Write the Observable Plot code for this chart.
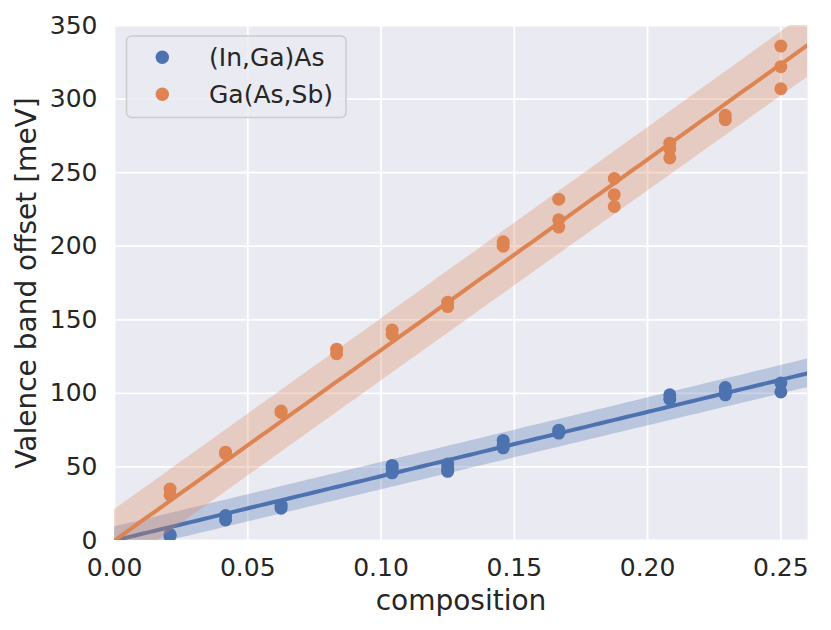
<!DOCTYPE html>
<html>
<head>
<meta charset="utf-8">
<script src="https://cdn.jsdelivr.net/npm/d3@7"></script>
<script src="https://cdn.jsdelivr.net/npm/@observablehq/plot@0.6"></script>
<style>
  body { margin: 0; background: #ffffff; font-family: "DejaVu Sans", sans-serif; }
  #wrap { position: relative; width: 831px; height: 630px; }
  #legend { position: absolute; left: 0; top: 0; pointer-events: none; }
</style>
</head>
<body>
<div id="wrap"></div>
<script>
// ---- data ----
const seriesNames = ["(In,Ga)As", "Ga(As,Sb)"];
const seriesColors = ["#4C72B0", "#DD8452"];

const inGaAsComposition = [1/48, 1/48, 2/48, 2/48, 3/48, 3/48, 5/48, 5/48, 5/48, 6/48, 6/48, 6/48,
  7/48, 7/48, 7/48, 8/48, 8/48, 10/48, 10/48, 11/48, 11/48, 11/48, 12/48, 12/48];
const inGaAsOffset = [3, 4, 17, 14, 24, 22, 51, 49, 46, 52, 49, 47,
  68, 65, 63, 75, 73, 99, 96, 104, 101, 99, 107, 101];

const gaAsSbComposition = [1/48, 1/48, 2/48, 2/48, 3/48, 3/48, 4/48, 4/48, 5/48, 5/48, 6/48, 6/48,
  7/48, 7/48, 8/48, 8/48, 8/48, 9/48, 9/48, 9/48, 10/48, 10/48, 10/48, 11/48, 11/48, 12/48, 12/48, 12/48];
const gaAsSbOffset = [35, 31, 60, 59, 88, 87, 130, 127, 143, 140, 162, 159,
  203, 200, 232, 218, 213, 246, 235, 227, 270, 266, 260, 289, 286, 336, 322, 307];

const xTicks = [0, 0.05, 0.10, 0.15, 0.20, 0.25];
const yTicks = [0, 50, 100, 150, 200, 250, 300, 350];
const xDomain = [0, 0.26];
const yDomain = [0, 350];

// ---- build tables ----
function table(xs, ys, name) { return xs.map((x, i) => ({x, y: ys[i], series: name})); }
const pts = [
  table(inGaAsComposition, inGaAsOffset, seriesNames[0]),
  table(gaAsSbComposition, gaAsSbOffset, seriesNames[1])
];

// least squares fit through the origin with a 95% prediction band
function fit(data) {
  const n = data.length;
  const sxx = d3.sum(data, d => d.x * d.x);
  const sxy = d3.sum(data, d => d.x * d.y);
  const b = sxy / sxx;
  const sse = d3.sum(data, d => (d.y - b * d.x) ** 2);
  const s = Math.sqrt(sse / (n - 1));
  const t = 2.05;
  const xs = d3.range(0, 101).map(i => xDomain[0] + (xDomain[1] - xDomain[0]) * i / 100);
  return xs.map(x => {
    const yh = b * x;
    const h = t * s * Math.sqrt(1 + x * x / sxx);
    return {x, y: yh, lo: yh - h, hi: yh + h};
  });
}
const fits = pts.map(fit);

const marks = [
  Plot.frame({fill: "#EAEAF2", stroke: "none"}),
  Plot.gridX(xTicks, {stroke: "#ffffff", strokeOpacity: 1, strokeWidth: 1.8}),
  Plot.gridY(yTicks, {stroke: "#ffffff", strokeOpacity: 1, strokeWidth: 1.8}),
  Plot.axisX(xTicks, {tickSize: 0, tickPadding: 18, tickFormat: d3.format(".2f"), label: null, fontSize: 25}),
  Plot.axisY(yTicks, {tickSize: 0, tickPadding: 17, label: null, fontSize: 25}),
];
pts.forEach((data, i) => {
  marks.push(
    Plot.areaY(fits[i], {x: "x", y1: "lo", y2: "hi", fill: seriesColors[i], fillOpacity: 0.3, clip: true}),
    Plot.line(fits[i], {x: "x", y: "y", stroke: seriesColors[i], strokeWidth: 4, clip: true}),
    Plot.dot(data, {x: "x", y: "y", r: 6.5, fill: seriesColors[i], stroke: "none", clip: true})
  );
});
marks.push(
  Plot.text(["composition"], {frameAnchor: "bottom", lineAnchor: "middle", textAnchor: "middle", dy: 61, fontSize: 28, fill: "#262626"}),
  Plot.text(["Valence band offset [meV]"], {frameAnchor: "left", lineAnchor: "middle", textAnchor: "middle", dx: -87, rotate: -90, fontSize: 28, fill: "#262626"})
);

const chart = Plot.plot({
  width: 831,
  height: 630,
  marginLeft: 114,
  marginRight: 24,
  marginTop: 25,
  marginBottom: 90,
  style: {fontFamily: "DejaVu Sans", fontSize: "25px", color: "#262626", background: "#ffffff"},
  x: {domain: xDomain},
  y: {domain: yDomain},
  marks
});
const wrap = document.getElementById("wrap");
wrap.appendChild(chart);

// legend overlay
const leg = d3.select(wrap).append("svg").attr("id", "legend").attr("width", 831).attr("height", 630);
leg.append("rect").attr("x", 126.5).attr("y", 36).attr("width", 219.5).attr("height", 81.5)
  .attr("rx", 5).attr("fill", "#EAEAF2").attr("fill-opacity", 0.8)
  .attr("stroke", "#cccccc").attr("stroke-width", 1.5);
seriesNames.forEach((name, i) => {
  const cy = 57.3 + i * 37;
  leg.append("circle").attr("cx", 162.3).attr("cy", cy).attr("r", 6.7).attr("fill", seriesColors[i]);
  leg.append("text").attr("x", 209).attr("y", cy + 9).attr("font-family", "DejaVu Sans")
    .attr("font-size", 25).attr("fill", "#262626").text(name);
});
</script>
</body>
</html>
